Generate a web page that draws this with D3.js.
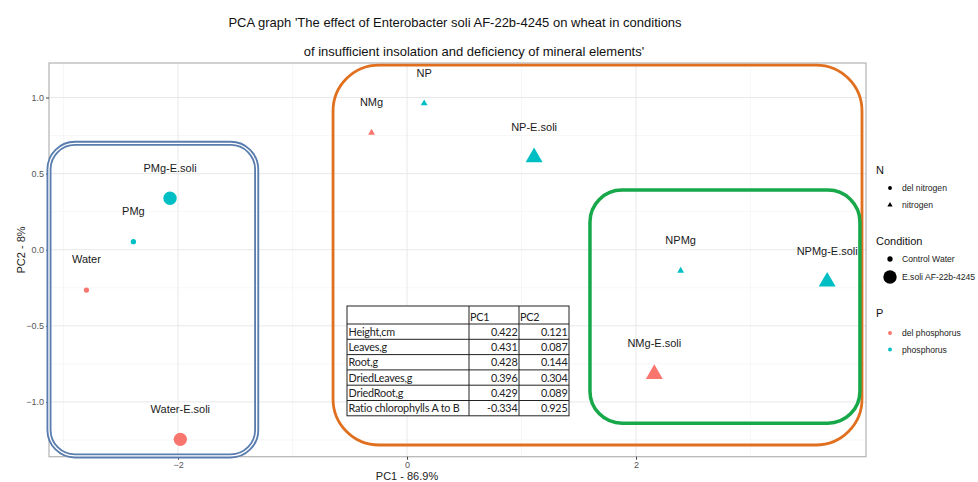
<!DOCTYPE html>
<html>
<head>
<meta charset="utf-8">
<title>PCA graph</title>
<script src="https://d3js.org/d3.v7.min.js"></script>
<style>
body { margin: 0; background: #fff; }
text { font-family: "Liberation Sans", Arial, sans-serif; }
text.tbl { font-family: Lato, "Open Sans", sans-serif; font-size: 10.8px; letter-spacing: -0.2px; }
</style>
</head>
<body>
<div id="chart"></div>
<script>

// samples
var labels    = ['Water', 'PMg', 'PMg-E.soli', 'Water-E.soli', 'NMg', 'NP', 'NP-E.soli', 'NPMg', 'NPMg-E.soli', 'NMg-E.soli'];
var pc1       = [-2.80, -2.39, -2.07, -1.98, -0.31, 0.15, 1.11, 2.39, 3.67, 2.16];
var pc2       = [-0.265, 0.053, 0.338, -1.246, 0.769, 0.962, 0.607, -0.138, -0.21, -0.817];
var nitrogen  = ['del nitrogen', 'del nitrogen', 'del nitrogen', 'del nitrogen', 'nitrogen', 'nitrogen', 'nitrogen', 'nitrogen', 'nitrogen', 'nitrogen'];
var condition = ['Control Water', 'Control Water', 'E.soli AF-22b-4245', 'E.soli AF-22b-4245', 'Control Water', 'Control Water', 'E.soli AF-22b-4245', 'Control Water', 'E.soli AF-22b-4245', 'E.soli AF-22b-4245'];
var phosphorus = ['del phosphorus', 'phosphorus', 'phosphorus', 'del phosphorus', 'del phosphorus', 'phosphorus', 'phosphorus', 'phosphorus', 'phosphorus', 'del phosphorus'];

// loadings table
var variables = ['Height,cm', 'Leaves,g', 'Root,g', 'DriedLeaves,g', 'DriedRoot,g', 'Ratio chlorophylls A to B'];
var loadPC1   = ['0.422', '0.431', '0.428', '0.396', '0.429', '-0.334'];
var loadPC2   = ['0.121', '0.087', '0.144', '0.304', '0.089', '0.925'];

// grouping boxes, in data units
var boxX0 = [-3.127, -0.646, 1.598];
var boxX1 = [-1.313, 3.974, 3.956];
var boxY0 = [-1.355, -1.283, -1.14];
var boxY1 = [0.699, 1.2135, 0.392];

var xTicks = [-2, 0, 2];
var yTicks = [-1.0, -0.5, 0.0, 0.5, 1.0];

var width = 978, height = 482;

var svg = d3.select("#chart").append("svg")
	.attr("width", width)
	.attr("height", height);

var x = d3.scaleLinear().domain([-3.127, 4.009]).range([49, 866]);
var y = d3.scaleLinear().domain([-1.36, 1.227]).range([456.7, 63]);

var color = d3.scaleOrdinal()
	.domain(['del phosphorus', 'phosphorus'])
	.range(['#F8766D', '#00BFC4']);

function symbolFor(n, c) {
	var big = c == 'E.soli AF-22b-4245';
	if (n == 'nitrogen') return d3.symbol().type(d3.symbolTriangle).size(big ? 125 : 20)();
	return d3.symbol().type(d3.symbolCircle).size(big ? 140 : 22)();
}

// title
var title = svg.append("g").attr("text-anchor", "middle").style("font-size", "13px").attr("fill", "#111");
title.append("text").attr("x", 455).attr("y", 27).text("PCA graph 'The effect of Enterobacter soli AF-22b-4245 on wheat in conditions");
title.append("text").attr("x", 474).attr("y", 56).text("of insufficient insolation and deficiency of mineral elements'");

// panel
var panel = svg.append("g");
panel.append("rect")
	.attr("x", x.range()[0]).attr("y", y.range()[1])
	.attr("width", x.range()[1] - x.range()[0])
	.attr("height", y.range()[0] - y.range()[1])
	.attr("fill", "#fff");

var minorX = [-3, -1, 1, 3], minorY = [-1.25, -0.75, -0.25, 0.25, 0.75];
panel.selectAll(".minx").data(minorX).enter().append("line")
	.attr("x1", x).attr("x2", x).attr("y1", y.range()[0]).attr("y2", y.range()[1])
	.attr("stroke", "#f2f2f2").attr("stroke-width", 0.6);
panel.selectAll(".miny").data(minorY).enter().append("line")
	.attr("y1", y).attr("y2", y).attr("x1", x.range()[0]).attr("x2", x.range()[1])
	.attr("stroke", "#f2f2f2").attr("stroke-width", 0.6);
panel.selectAll(".majx").data(xTicks).enter().append("line")
	.attr("x1", x).attr("x2", x).attr("y1", y.range()[0]).attr("y2", y.range()[1])
	.attr("stroke", "#e8e8e8").attr("stroke-width", 1);
panel.selectAll(".majy").data(yTicks).enter().append("line")
	.attr("y1", y).attr("y2", y).attr("x1", x.range()[0]).attr("x2", x.range()[1])
	.attr("stroke", "#e8e8e8").attr("stroke-width", 1);

// axes
var xAxis = svg.append("g")
	.attr("transform", "translate(0," + y.range()[0] + ")")
	.call(d3.axisBottom(x).tickValues(xTicks).tickSize(3).tickPadding(2).tickFormat(d3.format("d")));
var yAxis = svg.append("g")
	.attr("transform", "translate(" + x.range()[0] + ",0)")
	.call(d3.axisLeft(y).tickValues(yTicks).tickSize(3).tickPadding(2).tickFormat(d3.format(".1f")));
[xAxis, yAxis].forEach(function(a) {
	a.select(".domain").remove();
	a.selectAll(".tick line").attr("stroke", "#444");
	a.selectAll(".tick text").attr("fill", "#555").style("font-size", "9px").style("font-family", "Liberation Sans, Arial, sans-serif");
});

panel.append("rect")
	.attr("x", x.range()[0]).attr("y", y.range()[1])
	.attr("width", x.range()[1] - x.range()[0])
	.attr("height", y.range()[0] - y.range()[1])
	.attr("fill", "none").attr("stroke", "#b3b3b3").attr("stroke-width", 1.2);

svg.append("text").attr("x", 407).attr("y", 480).attr("text-anchor", "middle")
	.style("font-size", "11px").attr("fill", "#222").text("PC1 - 86.9%");
svg.append("text").attr("transform", "translate(25,250) rotate(-90)").attr("text-anchor", "middle")
	.style("font-size", "11px").attr("fill", "#222").text("PC2 - 8%");

// grouping boxes
var boxColors = ['#5a7db0', '#e0701f', '#17a84a'];
var boxWidths = [5, 2.8, 3.5];
var boxRadius = [26, 46, 32];
var boxes = svg.append("g");
boxX0.forEach(function(d, i) {
	boxes.append("rect")
		.attr("x", x(boxX0[i])).attr("y", y(boxY1[i]))
		.attr("width", x(boxX1[i]) - x(boxX0[i]))
		.attr("height", y(boxY0[i]) - y(boxY1[i]))
		.attr("rx", boxRadius[i]).attr("ry", boxRadius[i])
		.attr("fill", "none")
		.attr("stroke", boxColors[i]).attr("stroke-width", boxWidths[i]);
	if (i == 0) {
		boxes.append("rect")
			.attr("x", x(boxX0[i])).attr("y", y(boxY1[i]))
			.attr("width", x(boxX1[i]) - x(boxX0[i]))
			.attr("height", y(boxY0[i]) - y(boxY1[i]))
			.attr("rx", boxRadius[i]).attr("ry", boxRadius[i])
			.attr("fill", "none").attr("stroke", "#fff").attr("stroke-width", 1.3);
	}
});

// points
var pts = svg.append("g");
labels.forEach(function(l, i) {
	pts.append("path")
		.attr("d", symbolFor(nitrogen[i], condition[i]))
		.attr("transform", "translate(" + x(pc1[i]) + "," + y(pc2[i]) + ")")
		.attr("fill", color(phosphorus[i]));
	pts.append("text")
		.attr("x", x(pc1[i])).attr("y", y(pc2[i] + 0.2))
		.attr("dy", "0.35em")
		.attr("text-anchor", "middle")
		.style("font-size", "11px").attr("fill", "#1a1a1a")
		.text(l);
});

// loadings table
var tx = [347, 469, 519, 569];
var ty0 = 306, headH = 18, rowH = 15.3;
var tbl = svg.append("g");
tbl.append("rect").attr("x", tx[0]).attr("y", ty0).attr("width", tx[3] - tx[0])
	.attr("height", headH + rowH * variables.length).attr("fill", "#fff").attr("stroke", "#222").attr("stroke-width", 1);
for (var k = 1; k < 3; k++) {
	tbl.append("line").attr("x1", tx[k]).attr("x2", tx[k]).attr("y1", ty0).attr("y2", ty0 + headH + rowH * variables.length)
		.attr("stroke", "#222");
}
for (var r = 0; r < variables.length; r++) {
	var yTop = ty0 + headH + rowH * r;
	tbl.append("line").attr("x1", tx[0]).attr("x2", tx[3]).attr("y1", yTop).attr("y2", yTop).attr("stroke", "#222");
	tbl.append("text").attr("class", "tbl").attr("x", tx[0] + 1.5).attr("y", yTop + rowH - 3.5).attr("fill", "#222").text(variables[r]);
	tbl.append("text").attr("class", "tbl").attr("x", tx[2] - 1.5).attr("y", yTop + rowH - 3.5).attr("text-anchor", "end").attr("fill", "#222").text(loadPC1[r]);
	tbl.append("text").attr("class", "tbl").attr("x", tx[3] - 1.5).attr("y", yTop + rowH - 3.5).attr("text-anchor", "end").attr("fill", "#222").text(loadPC2[r]);
}
tbl.append("text").attr("class", "tbl").attr("x", tx[1] + 1).attr("y", ty0 + headH - 3).attr("fill", "#222").text("PC1");
tbl.append("text").attr("class", "tbl").attr("x", tx[2] + 1).attr("y", ty0 + headH - 3).attr("fill", "#222").text("PC2");

// legend
var leg = svg.append("g").attr("transform", "translate(876,0)");
function legTitle(t, yy) {
	leg.append("text").attr("x", 0).attr("y", yy).attr("dy", "0.35em").style("font-size", "11px").attr("fill", "#111").text(t);
}
function legItem(t, yy, shape, fill) {
	leg.append("path").attr("d", shape).attr("transform", "translate(14," + yy + ")").attr("fill", fill || "#000");
	leg.append("text").attr("x", 26).attr("y", yy).attr("dy", "0.35em").style("font-size", "8.6px").attr("fill", "#222").text(t);
}
legTitle("N", 170);
legItem("del nitrogen", 188, d3.symbol().type(d3.symbolCircle).size(12)());
legItem("nitrogen", 205, d3.symbol().type(d3.symbolTriangle).size(12)());
legTitle("Condition", 241);
legItem("Control Water", 259, d3.symbol().type(d3.symbolCircle).size(22)());
legItem("E.soli AF-22b-4245", 277, d3.symbol().type(d3.symbolCircle).size(140)());
legTitle("P", 313);
color.domain().forEach(function(p, i) {
	legItem(p, 333 + i * 16.5, d3.symbol().type(d3.symbolCircle).size(12)(), color(p));
});

</script>
</body>
</html>
